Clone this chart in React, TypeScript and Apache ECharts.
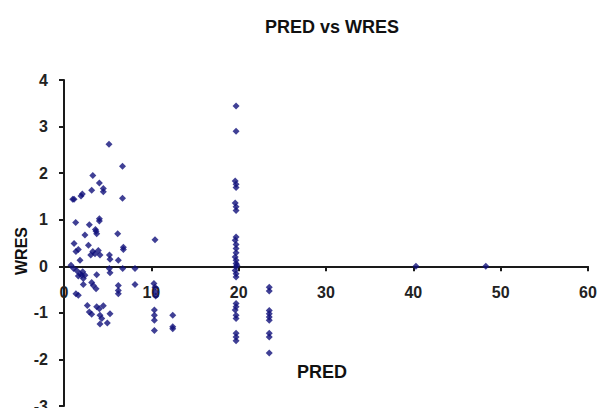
import React, { useEffect, useRef } from "react";
import * as echarts from "echarts";

// PRED (x) and WRES (y) values
const clusterPred = [5.15, 6.7, 3.3, 4.05, 4.5, 4.5, 3.17, 2.1, 1.95, 1.15, 1.0, 6.7,
  1.34, 2.9, 4.05, 4.05, 3.6,
  2.4, 3.67, 3.74, 6.15, 1.15, 1.37, 1.64, 2.8, 3.3, 3.55, 3.93, 3.06, 4.12, 5.2, 5.27, 6.22, 6.8, 6.8, 1.83,
  1.45, 1.83, 1.64, 2.03, 2.21, 2.4, 2.14, 3.74, 5.19, 5.27, 6.72, 8.13,
  2.21, 3.17, 3.36, 3.67, 1.37, 1.64, 6.22, 6.22, 6.22, 8.13,
  2.67, 2.9, 3.17, 3.74, 4.05, 4.12, 4.32, 4.12, 4.96, 5.27, 4.5, 0.8, 1.1];
const clusterWres = [2.62, 2.15, 1.95, 1.79, 1.67, 1.6, 1.63, 1.55, 1.51, 1.44, 1.44, 1.46,
  0.94, 0.89, 1.02, 0.97, 0.79,
  0.67, 0.75, 0.7, 0.7, 0.49, 0.32, 0.36, 0.45, 0.32, 0.27, 0.34, 0.24, 0.24, 0.24, 0.15, 0.13, 0.41, 0.36, 0.13,
  -0.09, -0.16, -0.21, -0.19, -0.26, -0.19, -0.12, -0.18, -0.05, -0.14, -0.05, -0.05,
  -0.39, -0.35, -0.41, -0.48, -0.59, -0.62, -0.41, -0.52, -0.59, -0.39,
  -0.84, -0.98, -1.03, -0.87, -0.91, -1.05, -1.12, -1.24, -1.22, -1.02, -0.85, 0.02, -0.05];

const col10Pred = [10.42, 10.3, 10.42, 10.5, 10.5, 10.35, 10.35, 10.35, 10.35, 12.45, 12.45, 12.45];
const col10Wres = [0.57, -0.37, -0.45, -0.55, -0.64, -0.94, -1.05, -1.16, -1.38, -1.05, -1.3, -1.34];

const col20Pred = [19.7, 19.7, 19.6, 19.7, 19.7, 19.6, 19.7, 19.7, 19.7, 19.6, 19.7, 19.7, 19.7, 19.6, 19.7,
  19.7, 19.8, 19.7, 19.6, 19.7, 19.7, 19.7, 19.7, 19.6, 19.7, 19.7, 19.7, 19.7, 19.7];
const col20Wres = [3.44, 2.9, 1.83, 1.76, 1.69, 1.36, 1.28, 1.2, 0.63, 0.56, 0.47, 0.38, 0.29, 0.2, 0.13,
  0.06, 0.02, -0.01, -0.09, -0.16, -0.23, -0.8, -0.87, -0.94, -1.05, -1.12, -1.44, -1.52, -1.6];

const col23Pred = [23.5, 23.5, 23.5, 23.5, 23.5, 23.5, 23.5, 23.5, 23.5];
const col23Wres = [-0.45, -0.53, -0.95, -1.02, -1.09, -1.16, -1.44, -1.52, -1.86];

const farPred = [40.3, 48.3];
const farWres = [0.0, 0.0];

const xTicks = { min: 0, max: 60, interval: 10 };
const yTicks = { min: -3, max: 4, interval: 1 };

const FONT = "'Liberation Sans', Arial, sans-serif";

const GRID_TOP = 80;
const GRID_BOTTOM = 2;
const CHART_H = 408;

function pairs(xs: number[], ys: number[]) {
  return xs.map((x, i) => [x, ys[i]]);
}

export default function App() {
  const ref = useRef<HTMLDivElement>(null);
  useEffect(() => {
    document.body.style.margin = "0";
    const chart = echarts.init(ref.current!, null, { renderer: "svg" });
    const data = [
      ...pairs(clusterPred, clusterWres),
      ...pairs(col10Pred, col10Wres),
      ...pairs(col20Pred, col20Wres),
      ...pairs(col23Pred, col23Wres),
      ...pairs(farPred, farWres),
    ];
    // move the x axis (line, ticks, labels) up to where WRES = 0
    const gridH = CHART_H - GRID_TOP - GRID_BOTTOM;
    const zeroFromBottom = ((0 - yTicks.min) / (yTicks.max - yTicks.min)) * gridH;
    chart.setOption({
      animation: false,
      backgroundColor: "#ffffff",
      grid: { left: 64, right: 12, top: GRID_TOP, bottom: GRID_BOTTOM, containLabel: false, outerBoundsMode: "none" },
      xAxis: {
        type: "value",
        min: xTicks.min,
        max: xTicks.max,
        interval: xTicks.interval,
        position: "bottom",
        offset: -zeroFromBottom,
        axisLine: { show: true, onZero: false, lineStyle: { color: "#1a1a1a", width: 2 } },
        axisTick: { show: true, inside: false, length: 5, lineStyle: { color: "#1a1a1a", width: 2 } },
        axisLabel: { margin: 18, color: "#222", fontSize: 16, fontWeight: "bold", fontFamily: FONT },
        splitLine: { show: false },
      },
      yAxis: {
        type: "value",
        min: yTicks.min,
        max: yTicks.max,
        interval: yTicks.interval,
        axisLine: { show: true, onZero: false, lineStyle: { color: "#1a1a1a", width: 2 } },
        axisTick: { show: true, inside: false, length: 5, lineStyle: { color: "#1a1a1a", width: 2 } },
        axisLabel: { margin: 16, color: "#222", fontSize: 16, fontWeight: "bold", fontFamily: FONT },
        splitLine: { show: false },
      },
      graphic: [
        {
          type: "text",
          x: 332,
          y: 27,
          style: {
            text: "PRED vs WRES",
            fill: "#111",
            font: `bold 18px ${FONT}`,
            textAlign: "center",
            textVerticalAlign: "middle",
          },
        },
        {
          type: "text",
          x: 322,
          y: 372,
          style: {
            text: "PRED",
            fill: "#111",
            font: `bold 18px ${FONT}`,
            textAlign: "center",
            textVerticalAlign: "middle",
          },
        },
        {
          type: "text",
          x: 21,
          y: 251,
          rotation: Math.PI / 2,
          style: {
            text: "WRES",
            fill: "#111",
            font: `bold 16px ${FONT}`,
            textAlign: "center",
            textVerticalAlign: "middle",
          },
        },
      ],
      series: [
        {
          type: "scatter",
          data,
          symbol: "diamond",
          symbolSize: 7,
          itemStyle: { color: "#10107a" },
        },
      ],
    });
    return () => chart.dispose();
  }, []);
  return <div ref={ref} style={{ width: 600, height: CHART_H }} />;
}
